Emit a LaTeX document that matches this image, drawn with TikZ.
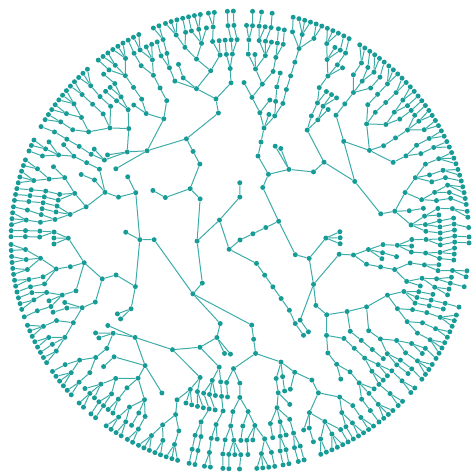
\documentclass[tikz,border=0pt]{standalone}
\definecolor{treeteal}{RGB}{22,155,150}
\definecolor{linkteal}{RGB}{60,172,168}
\tikzset{
  rtdot/.style={circle, fill=treeteal, draw=none, inner sep=0pt, minimum size=5pt},
  rtlink/.style={draw=linkteal, line width=1pt}
}
\ExplSyntaxOn
\int_const:Nn \c_rt_maxd_int {16}
\clist_const:Nn \c_rt_target_clist {1,2,3,4,5,6,8,11,15,21,30,42,60,84,115,150,200,0,0}
\int_new:N \g_rt_rng_int
\int_gset:Nn \g_rt_rng_int {777}
\int_new:N \g_rt_n_int
\int_new:N \l_rt_i_int
\int_new:N \l_rt_d_int
\int_new:N \l_rt_k_int
\int_new:N \l_rt_r_int
\int_new:N \l_rt_ta_int
\int_new:N \l_rt_tb_int
\int_new:N \l_rt_tc_int
\int_new:N \l_rt_s_int
\int_new:N \l_rt_e_int
\int_new:N \g_rt_prev_int
\fp_new:N \g_rt_cum_fp
\fp_new:N \l_rt_w_fp
\fp_new:N \l_rt_g_fp
\fp_new:N \l_rt_rho_fp
\fp_new:N \l_rt_tot_fp
\tl_new:N \g_rt_nodes_tl
\tl_new:N \g_rt_links_tl
\intarray_new:Nn \g_rt_par_intarray {3000}
\intarray_new:Nn \g_rt_dep_intarray {3000}
\intarray_new:Nn \g_rt_fst_intarray {3000}
\intarray_new:Nn \g_rt_nch_intarray {3000}
\intarray_new:Nn \g_rt_lev_intarray {30}
\fparray_new:Nn \g_rt_ang_fparray {3000}
\fparray_new:Nn \g_rt_deg_fparray {3000}
\fparray_new:Nn \g_rt_f_fparray {3000}
\fparray_new:Nn \g_rt_b_fparray {3000}

\cs_new_protected:Npn \rt_rand:
  {
    \int_gset:Nn \g_rt_rng_int
      { \int_mod:nn { 75 * ( \g_rt_rng_int + 1 ) } { 65537 } - 1 }
    \int_set:Nn \l_rt_r_int
      { \int_div_truncate:nn { \g_rt_rng_int * 100 } { 65537 } }
  }

\cs_new_protected:Npn \rt_thresholds:n #1
  {
    \fp_set:Nn \l_rt_rho_fp
      { \clist_item:Nn \c_rt_target_clist { #1 + 2 } / \intarray_item:Nn \g_rt_lev_intarray { #1 + 1 } }
    \int_compare:nNnTF {#1} = {0}
      { \int_set:Nn \l_rt_ta_int {0} \int_set:Nn \l_rt_tb_int {0} \int_set:Nn \l_rt_tc_int {100} }
      {
        \int_compare:nNnTF {#1} < {4}
          {
            \int_set:Nn \l_rt_ta_int {0}
            \int_set:Nn \l_rt_tb_int { \fp_eval:n { round( 100 * ( 1 - min(1, max(0, \l_rt_rho_fp - 1)) ) ) } }
            \int_set:Nn \l_rt_tc_int {100}
          }
          {
            \int_set:Nn \l_rt_ta_int {19}
            \int_set:Nn \l_rt_tb_int { \fp_eval:n { round( 19 + 100 * ( 0.69 - min(0.69, max(0, \l_rt_rho_fp - 1.05)) ) ) } }
            \int_set:Nn \l_rt_tc_int {88}
          }
      }
  }

\cs_new_protected:Npn \rt_generate:
  {
    \int_gset:Nn \g_rt_n_int {1}
    \intarray_gset:Nnn \g_rt_par_intarray {1} {0}
    \intarray_gset:Nnn \g_rt_dep_intarray {1} {0}
    \intarray_gset:Nnn \g_rt_lev_intarray {1} {1}
    \int_set:Nn \l_rt_i_int {1}
    \int_do_while:nNnn \l_rt_i_int < { \g_rt_n_int + 1 }
      {
        \int_set:Nn \l_rt_d_int { \intarray_item:Nn \g_rt_dep_intarray { \l_rt_i_int } }
        \int_compare:nNnTF \l_rt_d_int < \c_rt_maxd_int
          {
            \rt_thresholds:n { \l_rt_d_int }
            \rt_rand:
            \int_set:Nn \l_rt_k_int
              {
                \int_compare:nNnTF \l_rt_r_int < \l_rt_ta_int {0} {1}
                + \int_compare:nNnTF \l_rt_r_int < \l_rt_tb_int {0} {1}
                + \int_compare:nNnTF \l_rt_r_int < \l_rt_tc_int {0} {1}
              }
          }
          { \int_set:Nn \l_rt_k_int {0} }
        \intarray_gset:Nnn \g_rt_fst_intarray { \l_rt_i_int } { \g_rt_n_int + 1 }
        \intarray_gset:Nnn \g_rt_nch_intarray { \l_rt_i_int } { \l_rt_k_int }
        \prg_replicate:nn { \l_rt_k_int }
          {
            \int_gincr:N \g_rt_n_int
            \intarray_gset:Nnn \g_rt_par_intarray { \g_rt_n_int } { \l_rt_i_int }
            \intarray_gset:Nnn \g_rt_dep_intarray { \g_rt_n_int } { \l_rt_d_int + 1 }
            \intarray_gset:Nnn \g_rt_lev_intarray { \l_rt_d_int + 2 }
              { \intarray_item:Nn \g_rt_lev_intarray { \l_rt_d_int + 2 } + 1 }
          }
        \int_incr:N \l_rt_i_int
      }
  }

\cs_new_protected:Npn \rt_dfs:n #1
  {
    \int_compare:nNnTF { \intarray_item:Nn \g_rt_nch_intarray {#1} } = {0}
      {
        \fp_set:Nn \l_rt_w_fp { max(0.15, ( \intarray_item:Nn \g_rt_dep_intarray {#1} / 16 ) ^ 3 ) }
        \int_compare:nNnTF { \intarray_item:Nn \g_rt_par_intarray {#1} } = \g_rt_prev_int
          { \fp_gadd:Nn \g_rt_cum_fp { \l_rt_w_fp } }
          { \fp_gadd:Nn \g_rt_cum_fp { 1.2 * \l_rt_w_fp } }
        \fparray_gset:Nnn \g_rt_ang_fparray {#1} { \g_rt_cum_fp }
        \int_gset:Nn \g_rt_prev_int { \intarray_item:Nn \g_rt_par_intarray {#1} }
      }
      {
        \int_step_inline:nnn
          { \intarray_item:Nn \g_rt_fst_intarray {#1} }
          { \intarray_item:Nn \g_rt_fst_intarray {#1} + \intarray_item:Nn \g_rt_nch_intarray {#1} - 1 }
          { \rt_dfs:n {##1} }
        \fparray_gset:Nnn \g_rt_ang_fparray {#1}
          {
            ( \fparray_item:Nn \g_rt_ang_fparray { \intarray_item:Nn \g_rt_fst_intarray {#1} }
            + \fparray_item:Nn \g_rt_ang_fparray
                { \intarray_item:Nn \g_rt_fst_intarray {#1} + \intarray_item:Nn \g_rt_nch_intarray {#1} - 1 }
            ) / 2
          }
      }
  }

\cs_new_protected:Npn \rt_degrees:
  {
    \fp_set:Nn \l_rt_tot_fp { \g_rt_cum_fp + 1.2 }
    \int_step_inline:nn { \g_rt_n_int }
      {
        \fparray_gset:Nnn \g_rt_deg_fparray {##1}
          { 360 * \fparray_item:Nn \g_rt_ang_fparray {##1} / \l_rt_tot_fp + 90 }
      }
  }

\cs_new_protected:Npn \rt_relax_range:
  {
    \fparray_gset:Nnn \g_rt_f_fparray { \l_rt_s_int }
      { \fparray_item:Nn \g_rt_deg_fparray { \l_rt_s_int } }
    \int_step_inline:nnn { \l_rt_s_int + 1 } { \l_rt_e_int }
      {
        \fparray_gset:Nnn \g_rt_f_fparray {##1}
          { max( \fparray_item:Nn \g_rt_deg_fparray {##1} ,
                 \fparray_item:Nn \g_rt_f_fparray {##1 - 1} + \l_rt_g_fp ) }
      }
    \fparray_gset:Nnn \g_rt_b_fparray { \l_rt_e_int }
      { \fparray_item:Nn \g_rt_deg_fparray { \l_rt_e_int } }
    \int_step_inline:nnnn { \l_rt_e_int - 1 } { -1 } { \l_rt_s_int }
      {
        \fparray_gset:Nnn \g_rt_b_fparray {##1}
          { min( \fparray_item:Nn \g_rt_deg_fparray {##1} ,
                 \fparray_item:Nn \g_rt_b_fparray {##1 + 1} - \l_rt_g_fp ) }
      }
    \int_step_inline:nnn { \l_rt_s_int } { \l_rt_e_int }
      {
        \fparray_gset:Nnn \g_rt_deg_fparray {##1}
          { ( \fparray_item:Nn \g_rt_f_fparray {##1} + \fparray_item:Nn \g_rt_b_fparray {##1} ) / 2 }
      }
  }

\cs_new_protected:Npn \rt_relax:
  {
    \int_set:Nn \l_rt_s_int {2}
    \int_step_inline:nn { 16 }
      {
        \int_set:Nn \l_rt_e_int
          { \l_rt_s_int + \intarray_item:Nn \g_rt_lev_intarray { ##1 + 1 } - 1 }
        \fp_set:Nn \l_rt_g_fp { 6 / ( ##1 * 229 / 16 ) * 57.29578 }
        \int_compare:nNnT \l_rt_e_int > \l_rt_s_int { \rt_relax_range: }
        \int_set:Nn \l_rt_s_int { \l_rt_e_int + 1 }
      }
  }

\cs_new_protected:Npn \rt_build:
  {
    \int_step_inline:nn { \g_rt_n_int }
      {
        \tl_gput_right:Nx \g_rt_nodes_tl
          {
            \exp_not:N \node [rtdot] ~ (n##1) ~ at ~
            ( \fp_eval:n { round( \intarray_item:Nn \g_rt_dep_intarray {##1} * 229 / 16
                 * cosd( \fparray_item:Nn \g_rt_deg_fparray {##1} ) , 3) } pt ,
              \fp_eval:n { round( \intarray_item:Nn \g_rt_dep_intarray {##1} * 229 / 16
                 * sind( \fparray_item:Nn \g_rt_deg_fparray {##1} ) , 3) } pt ) ~ {} ;
          }
        \int_compare:nNnT {##1} > {1}
          {
            \tl_gput_right:Nx \g_rt_links_tl
              { \exp_not:N \draw [rtlink] ~ (n \intarray_item:Nn \g_rt_par_intarray {##1}) -- (n##1) ; }
          }
      }
  }

\rt_generate:
\rt_dfs:n {1}
\rt_degrees:
\rt_relax:
\rt_build:
\cs_new:Npn \rtnodes { \tl_use:N \g_rt_nodes_tl }
\cs_new:Npn \rtlinks { \tl_use:N \g_rt_links_tl }
\ExplSyntaxOff
\begin{document}
\begin{tikzpicture}
\useasboundingbox (0,0) rectangle (472pt,476pt);
\begin{scope}[shift={(240pt,236pt)}]
\rtnodes
\rtlinks
\end{scope}
\end{tikzpicture}
\end{document}
